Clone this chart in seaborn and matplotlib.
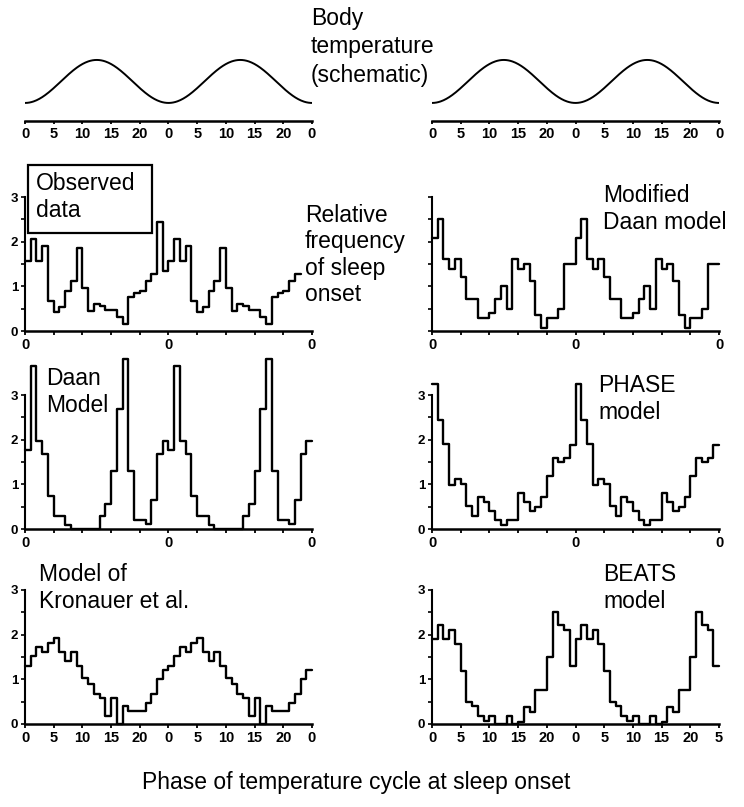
import numpy as np
import matplotlib
matplotlib.use("Agg")
import matplotlib.pyplot as plt
import seaborn as sns
from matplotlib.patches import Rectangle

sns.set_theme(style="ticks")
plt.rcParams['font.family'] = ['Liberation Sans', 'DejaVu Sans']
plt.rcParams.update({"text.color": "black", "xtick.color": "black", "ytick.color": "black",
                     "axes.edgecolor": "black", "axes.labelcolor": "black"})

# ---------------- data (one 24-h cycle = 25 bins, double plotted) ----------------
BIN_WIDTH = 0.96
observed = [1.57, 2.07, 1.57, 1.90, 0.67, 0.43, 0.53, 0.89, 1.11, 1.85, 0.97, 0.44, 0.60,
            0.55, 0.46, 0.46, 0.32, 0.15, 0.77, 0.84, 0.90, 1.11, 1.27, 2.45, 1.34]
modified_daan = [2.09, 2.50, 1.61, 1.39, 1.61, 1.20, 0.72, 0.72, 0.30, 0.30, 0.40, 0.72, 1.00,
                 0.50, 1.61, 1.39, 1.50, 1.13, 0.35, 0.06, 0.30, 0.30, 0.50, 1.50, 1.50]
daan = [1.77, 3.65, 1.96, 1.68, 0.74, 0.30, 0.30, 0.10, 0.0, 0.0, 0.0, 0.0, 0.0,
        0.30, 0.56, 1.30, 2.68, 3.81, 1.30, 0.21, 0.21, 0.11, 0.66, 1.68, 1.96]
phase_model = [3.25, 2.43, 1.90, 0.99, 1.12, 1.00, 0.52, 0.30, 0.71, 0.60, 0.41, 0.20, 0.10,
               0.20, 0.20, 0.80, 0.60, 0.40, 0.50, 0.71, 1.19, 1.60, 1.49, 1.59, 1.88]
kronauer = [1.30, 1.53, 1.73, 1.62, 1.81, 1.92, 1.62, 1.41, 1.62, 1.30, 1.02, 0.89, 0.68,
            0.59, 0.17, 0.59, 0.0, 0.40, 0.29, 0.29, 0.29, 0.47, 0.68, 1.00, 1.21]
beats = [1.90, 2.22, 1.90, 2.10, 1.80, 1.19, 0.49, 0.40, 0.19, 0.06, 0.17, 0.0, 0.0,
         0.17, 0.0, 0.05, 0.38, 0.26, 0.77, 0.77, 1.49, 2.50, 2.22, 2.10, 1.29]

tick_pos = [0, 4.8, 9.6, 14.4, 19.2, 24, 28.8, 33.6, 38.4, 43.2, 48]
labels_full = ["0", "5", "10", "15", "20", "0", "5", "10", "15", "20", "0"]
labels_beats = ["0", "5", "10", "15", "20", "0", "5", "10", "15", "20", "5"]
labels_zero = ["0", "", "", "", "", "0", "", "", "", "", "0"]

W, H = 744, 807
fig = plt.figure(figsize=(W / 100, H / 100), dpi=100)


def rect(x0, x1, ytop, ybot):
    return [x0 / W, 1 - ybot / H, (x1 - x0) / W, (ybot - ytop) / H]


def style_axis(ax, xlabels, xfs=10.5):
    ax.set_xlim(0, 48)
    ax.set_xticks(tick_pos)
    ax.set_xticklabels(xlabels, fontsize=xfs, fontweight="bold")
    ax.tick_params(axis="x", direction="out", length=3, width=1.3, pad=2)
    for s in ["top", "right"]:
        ax.spines[s].set_visible(False)
    ax.spines["bottom"].set_linewidth(1.8)
    ax.set_xlabel("")
    ax.set_ylabel("")


def hist_panel(ax, cycle_vals, n_bins, xlabels, ylabels=True):
    vals = np.tile(cycle_vals, 2)[:n_bins]
    edges = np.arange(n_bins + 1) * BIN_WIDTH
    heights = np.append(vals, vals[-1])
    sns.lineplot(x=edges, y=heights, drawstyle="steps-post", estimator=None,
                 color="black", linewidth=1.7, ax=ax)
    for ln in ax.lines:
        ln.set_clip_on(False)
    ax.set_ylim(0, 3)
    ax.set_yticks([0, 1, 2, 3])
    ax.set_yticks([0.5, 1.5, 2.5], minor=True)
    if ylabels:
        ax.set_yticklabels(["0", "1", "2", "3"], fontsize=9.5, fontweight="bold")
    else:
        ax.set_yticklabels([])
    ax.tick_params(axis="y", which="both", direction="out", length=3, width=1.2, pad=2)
    ax.spines["left"].set_linewidth(1.5)
    style_axis(ax, xlabels)


def schematic(ax, xlabels):
    grid = np.linspace(0, 48, 400)
    curve = -np.cos(2 * np.pi * grid / 24)
    sns.lineplot(x=grid, y=curve, color="black", linewidth=1.4, ax=ax)
    ax.set_ylim(-1.84, 1.23)
    ax.set_yticks([])
    ax.spines["left"].set_visible(False)
    style_axis(ax, xlabels)
    ax.tick_params(axis="x", length=2)


LX0, LX1 = 25, 312
RX0, RX1 = 432, 719

ax_s1 = fig.add_axes(rect(LX0, LX1, 55, 121))
schematic(ax_s1, labels_full)
ax_s2 = fig.add_axes(rect(RX0, RX1, 55, 121))
schematic(ax_s2, labels_full)

rows = [(197, 331), (395, 529), (590, 724)]
ax1 = fig.add_axes(rect(LX0, LX1, *rows[0]))
hist_panel(ax1, observed, 48, labels_zero)
ax2 = fig.add_axes(rect(RX0, RX1, *rows[0]))
hist_panel(ax2, modified_daan, 50, labels_zero, ylabels=False)
ax3 = fig.add_axes(rect(LX0, LX1, *rows[1]))
hist_panel(ax3, daan, 50, labels_zero)
ax4 = fig.add_axes(rect(RX0, RX1, *rows[1]))
hist_panel(ax4, phase_model, 50, labels_zero)
ax5 = fig.add_axes(rect(LX0, LX1, *rows[2]))
hist_panel(ax5, kronauer, 50, labels_full)
ax6 = fig.add_axes(rect(RX0, RX1, *rows[2]))
hist_panel(ax6, beats, 50, labels_beats)

# ---------------- texts ----------------
FS = 16.5
LS = 1.18


def ftext(x, y, s, size=FS, ls=LS, **kw):
    fig.text(x / W, 1 - y / H, s, fontsize=size, va="center", ha="left",
             linespacing=ls, **kw)


ftext(311, 47, "Body\ntemperature\n(schematic)", ls=1.28)
fig.add_artist(Rectangle((28 / W, 1 - 233 / H), 124 / W, 68 / H, transform=fig.transFigure,
                         fill=False, edgecolor="black", linewidth=1.6))
ftext(36, 197, "Observed\ndata")
ftext(305, 255, "Relative\nfrequency\nof sleep\nonset")
ftext(603, 209, "Modified\nDaan model")
ftext(46, 392, "Daan\nModel")
ftext(598, 399, "PHASE\nmodel")
ftext(39, 588, "Model of\nKronauer et al.")
ftext(603, 588, "BEATS\nmodel")
fig.text(356 / W, 1 - 782 / H, "Phase of temperature cycle at sleep onset", fontsize=FS,
         ha="center", va="center")

fig.savefig("out.png", dpi=100)
